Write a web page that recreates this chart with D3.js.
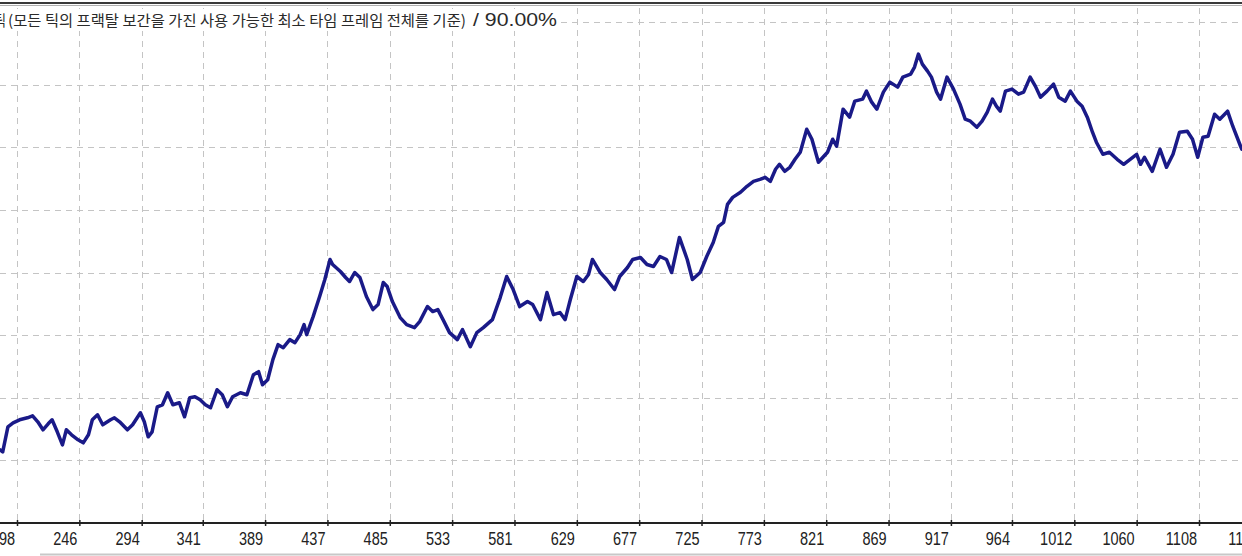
<!DOCTYPE html>
<html><head><meta charset="utf-8">
<script src="https://cdn.jsdelivr.net/npm/d3@7"></script>
<style>html,body{margin:0;padding:0;background:#fff;overflow:hidden}svg{display:block}</style>
</head><body>
<svg id="c" width="1242" height="556"></svg>
<script>
// trade number (x) and balance (y)
const trades = [185,187,191,195,200,206,210,214,218,222,225,229,233,236,240,245,249,253,256,260,264,270,273,277,283,287,293,296,299,302,306,310,314,318,323,327,331,335,339,343,347,352,356,360,364,370,375,380,384,387,391,395,399,403,408,412,416,419,421,426,431,435,439,441,447,451,454,458,462,467,472,476,480,483,487,493,498,504,508,514,518,522,526,531,537,541,547,552,557,564,570,575,580,585,591,595,601,606,611,616,620,624,629,634,638,641,647,652,658,662,668,672,678,683,688,693,698,702,708,714,718,724,729,734,738,742,745,749,755,760,765,770,774,778,782,785,789,793,797,801,806,810,815,822,826,829,834,839,843,849,852,856,860,865,870,876,880,886,889,892,895,899,902,906,909,914,919,924,928,932,937,941,945,949,952,955,959,964,969,973,978,982,986,991,996,1000,1005,1009,1014,1018,1022,1026,1029,1034,1039,1045,1050,1055,1060,1063,1066,1072,1078,1083,1088,1093,1099,1103,1107,1111,1115,1120,1124,1130,1134,1140,1141];
const balance = [1168,1136,1536,1600,1648,1680,1712,1616,1488,1584,1648,1456,1248,1488,1408,1328,1280,1408,1648,1728,1568,1648,1680,1616,1488,1568,1760,1616,1376,1456,1856,1888,2080,1888,1920,1696,2000,2016,1968,1888,1840,2128,2048,1856,2016,2080,2048,2368,2416,2208,2288,2608,2848,2800,2928,2880,3008,3168,3008,3296,3616,3888,4208,4128,4016,3920,3856,4000,3920,3616,3408,3488,3840,3776,3536,3280,3168,3120,3216,3456,3376,3408,3248,3040,2928,3088,2816,3040,3120,3248,3600,3936,3728,3456,3536,3488,3248,3680,3328,3360,3248,3568,3936,3856,3968,4208,4000,3888,3728,3936,4080,4208,4240,4128,4096,4256,4208,4000,4560,4208,3888,4000,4256,4480,4736,4800,5088,5200,5280,5376,5456,5488,5520,5456,5648,5728,5616,5680,5808,5920,6288,6128,5760,5920,6128,6016,6608,6480,6736,6768,6896,6720,6608,6880,7040,6960,7120,7168,7280,7488,7328,7216,7120,6880,6768,7120,6928,6688,6448,6416,6320,6416,6560,6768,6656,6576,6896,6928,6848,6880,7120,6976,6800,6896,7008,6800,6736,6896,6736,6656,6480,6240,6080,5888,5920,5808,5728,5808,5888,5728,5840,5616,5968,5680,5888,6240,6256,6128,5840,6160,6176,6528,6448,6576,6336,6016,5968];
const xTickLabels = [198,246,294,341,389,437,485,533,581,629,677,725,773,821,869,917,964,1012,1060,1108,1156];
const yGridValues = [1000,2000,3000,4000,5000,6000,7000,8000];
const titleLead = "틱";
const titleMain = "(모든 틱의 프랙탈 보간을 가진 사용 가능한 최소 타임 프레임 전체를 기준)";
const titleTail = "/ 90.00%";

const svg = d3.select("#c");
const W = 1242, H = 556;
const x = d3.scaleLinear().domain([198, 1108]).range([17, 1199]);
const y = d3.scaleLinear().domain([0, 8000]).range([523, 22]);

svg.append("rect").attr("width", W).attr("height", H).attr("fill", "#fff");

// grid
const grid = svg.append("g").attr("stroke", "#c4c4c4").attr("stroke-width", 1).attr("stroke-dasharray", "6,5");
grid.selectAll("line.h").data(yGridValues).join("line")
  .attr("x1", 0).attr("x2", W)
  .attr("y1", d => Math.round(y(d)) + 0.5).attr("y2", d => Math.round(y(d)) + 0.5);
grid.selectAll("line.v").data(xTickLabels).join("line")
  .attr("x1", d => Math.round(x(d)) + 0.5).attr("x2", d => Math.round(x(d)) + 0.5)
  .attr("y1", 8).attr("y2", 523);

// title background + text
svg.append("rect").attr("x", 0).attr("y", 9).attr("width", 560).attr("height", 22).attr("fill", "#fff");
const tg = svg.append("g").attr("fill", "#2a2a2a");
tg.append("text").attr("transform", "translate(6,26) scale(1,1.2)")
  .attr("text-anchor", "end").attr("font-family", "Noto Sans CJK KR").attr("font-size", 12.5).text(titleLead);
tg.append("text").attr("transform", "translate(8,26) scale(1,1.2)")
  .attr("font-family", "Noto Sans CJK KR").attr("font-size", 12.5)
  .attr("textLength", 458).attr("lengthAdjust", "spacingAndGlyphs").text(titleMain);
tg.append("text").attr("transform", "translate(473,26) scale(1,1.25)")
  .attr("font-family", "Liberation Sans, Arial, sans-serif").attr("font-size", 15)
  .attr("textLength", 84).attr("lengthAdjust", "spacingAndGlyphs").text(titleTail);

// top border
svg.append("line").attr("x1", 0).attr("x2", W).attr("y1", 3).attr("y2", 3).attr("stroke", "#3a3a3a").attr("stroke-width", 2);
svg.append("line").attr("x1", 0).attr("x2", W).attr("y1", 5.5).attr("y2", 5.5).attr("stroke", "#b0b0b0").attr("stroke-width", 1);

// balance line
const line = d3.line().x((d, i) => x(trades[i])).y(d => y(d)).curve(d3.curveLinear);
svg.append("path").datum(balance).attr("d", line)
  .attr("fill", "none").attr("stroke", "#1a1a88").attr("stroke-width", 3.5)
  .attr("stroke-linejoin", "round").attr("stroke-linecap", "round");

// x axis
const axis = d3.axisBottom(x).tickValues(xTickLabels).tickSize(3).tickFormat("");
const ag = svg.append("g").attr("transform", "translate(0,523)").call(axis);
ag.select(".domain").remove();
ag.selectAll(".tick line").attr("stroke", "#222").attr("stroke-width", 1.5).attr("y1", -3);
svg.append("line").attr("x1", 0).attr("x2", W).attr("y1", 523).attr("y2", 523).attr("stroke", "#222").attr("stroke-width", 2);
svg.append("g").selectAll("text").data(xTickLabels).join("text")
  .attr("transform", d => `translate(${x(d) - 2},545) scale(1,1.3)`)
  .attr("text-anchor", "end").attr("font-family", "Liberation Sans, Arial, sans-serif")
  .attr("font-size", 14.5).attr("fill", "#222").text(d => d);

// bottom border
svg.append("line").attr("x1", 40).attr("x2", W).attr("y1", 554.5).attr("y2", 554.5).attr("stroke", "#c8c8c8").attr("stroke-width", 2);
</script>
</body></html>
